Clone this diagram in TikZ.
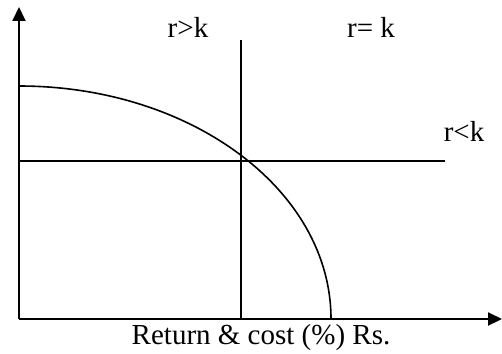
\documentclass[tikz,border=0pt]{standalone}
\usepackage{fontspec}
\setmainfont{Liberation Serif}
\usetikzlibrary{arrows.meta}
\begin{document}
\begin{tikzpicture}[x=1pt,y=-1pt,
  ln/.style={line width=2pt},
  ax/.style={line width=2pt,-{Triangle[length=14pt,width=13pt]}},
  lbl/.style={font=\fontsize{29}{34}\selectfont,inner sep=0pt}]
\useasboundingbox (0,0) rectangle (502,353);
\coordinate (O) at (19,319);
\coordinate (ytop) at (19,7);
\coordinate (xend) at (502,319);
\draw[ax] (O) -- (ytop);
\draw[ax] (O) -- (xend);
\coordinate (vtop) at (241,40);
\coordinate (vbot) at (241,319);
\draw[ln] (vtop) -- (vbot);
\coordinate (hl) at (19,161);
\coordinate (hr) at (445,161);
\draw[ln] (hl) -- (hr);
\draw[line width=1.6pt] (19,86) arc[start angle=90,end angle=0,x radius=312,y radius=-233];
\node[lbl] (l1) at (188,27) {r>k};
\node[lbl] (l2) at (371,27) {r= k};
\node[lbl] (l3) at (464,131) {r<k};
\node[lbl] (l4) at (261,338) {Return \& cost (\%) Rs.};
\end{tikzpicture}
\end{document}
